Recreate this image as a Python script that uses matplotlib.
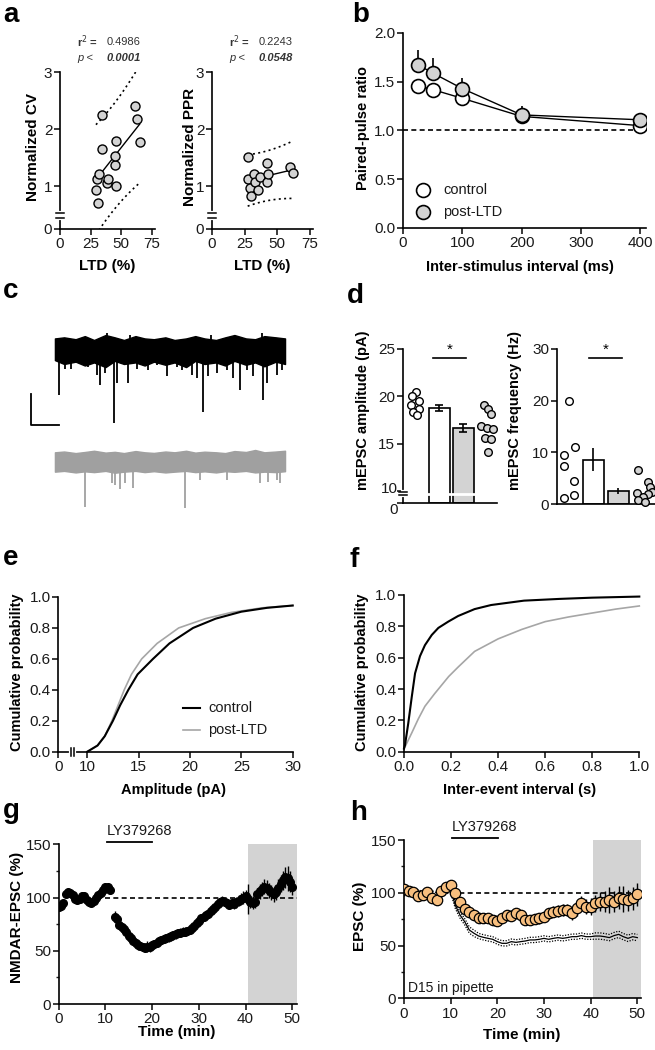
import numpy as np
import matplotlib
matplotlib.use("Agg")
import matplotlib.pyplot as plt
from matplotlib.transforms import blended_transform_factory, offset_copy

plt.rcParams['font.family'] = ['Liberation Sans', 'DejaVu Sans']
plt.rcParams['axes.linewidth'] = 1.2
for a in ('x', 'y'):
    plt.rcParams[f'{a}tick.major.width'] = 1.2
    plt.rcParams[f'{a}tick.minor.width'] = 1.0
    plt.rcParams[f'{a}tick.major.size'] = 4
    plt.rcParams[f'{a}tick.minor.size'] = 2.5
    plt.rcParams[f'{a}tick.labelsize'] = 11
    plt.rcParams[f'{a}tick.color'] = '#1a1a1a'
plt.rcParams['xtick.major.pad'] = 2
plt.rcParams['ytick.major.pad'] = 1.5

# ---------------- data ----------------
# a: LTD (%) vs normalized CV / PPR
cv_ltd = [31.2, 29.3, 29.8, 32.0, 33.9, 33.9, 38.5, 39.3, 44.7, 44.7, 45.5, 45.3, 61.0, 62.9, 65.0]
cv_norm = [0.71, 0.93, 1.12, 1.22, 2.24, 1.65, 1.06, 1.12, 1.37, 1.52, 1.79, 1.01, 2.40, 2.18, 1.78]
ppr_ltd = [27.3, 27.3, 29.1, 29.6, 32.1, 32.9, 35.5, 36.7, 41.8, 41.8, 43.1, 59.7, 61.7]
ppr_norm = [1.51, 1.13, 0.96, 0.83, 1.21, 1.08, 0.93, 1.16, 1.41, 1.08, 1.22, 1.34, 1.23]
cv_stats = ('0.4986', '0.0001')
ppr_stats = ('0.2243', '0.0548')

# b: paired-pulse ratio
isi = [25, 50, 100, 200, 400]
ppr_ctrl = [1.46, 1.42, 1.33, 1.145, 1.05]
ppr_ctrl_err = [0.08, 0.07, 0.08, 0.04, 0.02]
ppr_post = [1.675, 1.59, 1.43, 1.16, 1.11]
ppr_post_err = [0.15, 0.15, 0.11, 0.09, 0.03]

# c: example mEPSC traces (noise envelope + events)
tr_t = [0, 4, 9, 13, 17, 22, 26, 30, 35, 39, 43, 48, 52, 57, 61, 65, 70, 74, 78, 83, 87, 91, 96, 100]
ctrl_top = [7.5, 8.2, 7.0, 9.0, 6.5, 9.7, 8.2, 6.5, 9.0, 7.5, 7.0, 8.2, 6.5, 7.5, 9.0, 7.5, 6.5, 8.2, 9.7, 7.5, 7.0, 9.0, 8.2, 7.5]
ctrl_bot = [-6.5, -9, -7.5, -10, -8, -11, -7, -9, -8, -10, -7.5, -9.5, -8, -11, -7, -9, -8, -10, -7, -9.5, -8, -10.5, -7.5, -9]
post_top = [6.0, 6.5, 5.5, 6.2, 7.0, 5.8, 6.3, 5.5, 6.8, 6.0, 5.6, 6.5, 6.0, 7.0, 5.8, 6.4, 6.0, 5.5, 6.8, 6.2, 7.5, 6.0, 6.5, 7.0]
post_bot = [-6.5, -6.0, -7.0, -6.3, -6.8, -6.0, -7.2, -6.5, -6.0, -6.8, -6.2, -7.0, -6.5, -6.0, -6.8, -6.3, -7.0, -6.2, -6.6, -6.0, -7.0, -6.5, -6.8, -6.2]
ctrl_ev_t = [1.9, 4.3, 7.2, 10.9, 14.5, 18.1, 19.6, 21.7, 25.7, 27.1, 31.9, 35.5, 40.6, 44.2, 48.6, 52.9, 55.1, 59.4,
             61.6, 64.5, 66.7, 70.3, 74.6, 77.5, 80.4, 83.3, 86.2, 90.6, 92.0, 96.4, 98.6]
ctrl_ev_amp = [-29, -12, -12, -8.6, -10.8, -16, -22.6, -15, -47, -21.5, -21.5, -12, -13, -9.7, -17, -10.8, -13, -16,
               -18, -40, -17, -15, -13, -18, -26, -13, -17, -32, -21.5, -16, -13]
ctrl_up_t = [22.5, 32.6, 68.0, 89.9]
ctrl_up_amp = [11, 10, 10, 11]
post_ev_t = [13.0, 24.6, 26.0, 28.3, 30.4, 34.0, 56.5, 63.0, 74.6, 89.0, 92.8, 96.4, 97.8]
post_ev_amp = [-29, -14, -15, -18, -14, -17, -30, -12, -12, -14, -13, -12, -14]
scale_t, scale_pA = 12.5, 20.0

# d: mEPSC amplitude / frequency
amp_ctrl = [20.5, 20.0, 19.5, 19.1, 18.7, 18.3, 18.0]
amp_ctrl_dx = [0.01, -0.13, 0.15, -0.17, 0.15, -0.10, 0.07]
amp_post = [19.1, 18.7, 18.1, 16.9, 16.7, 16.5, 15.6, 15.5, 14.1]
amp_post_dx = [-0.15, 0.03, 0.17, -0.25, 0.0, 0.24, -0.11, 0.14, 0.03]
amp_mean = [18.75, 16.65]
amp_sem = [0.35, 0.45]
freq_ctrl = [20.0, 11.0, 9.5, 7.3, 4.5, 1.7, 1.1]
freq_ctrl_dx = [0.04, 0.25, -0.17, -0.17, 0.23, 0.23, -0.17]
freq_post = [6.6, 4.3, 3.3, 2.4, 2.1, 2.0, 1.4, 0.8, 0.4]
freq_post_dx = [-0.2, 0.2, 0.27, 0.33, -0.27, 0.2, 0.0, -0.2, 0.07]
freq_mean = [8.6, 2.5]
freq_sem = [2.2, 0.55]

# e: cumulative amplitude
e_x_ctrl = [10, 11, 11.7, 12.5, 13.2, 14.0, 14.9, 16.4, 18.0, 20.3, 22.5, 25, 27.5, 30]
e_y_ctrl = [0.0, 0.04, 0.1, 0.2, 0.3, 0.4, 0.5, 0.6, 0.7, 0.8, 0.86, 0.905, 0.93, 0.945]
e_x_post = [10, 11, 11.7, 12.4, 13.0, 13.6, 14.3, 15.3, 16.8, 18.9, 21.5, 24, 27, 30]
e_y_post = [0.0, 0.04, 0.1, 0.2, 0.3, 0.4, 0.5, 0.6, 0.7, 0.8, 0.86, 0.9, 0.93, 0.945]

# f: cumulative inter-event interval
f_x_ctrl = [0, 0.004, 0.018, 0.033, 0.047, 0.068, 0.089, 0.118, 0.146, 0.188, 0.23, 0.30, 0.37, 0.51, 0.66, 0.80, 1.0]
f_y_ctrl = [0.02, 0.04, 0.18, 0.35, 0.50, 0.61, 0.68, 0.745, 0.79, 0.83, 0.866, 0.91, 0.936, 0.964, 0.975, 0.983, 0.99]
f_x_post = [0, 0.004, 0.033, 0.061, 0.089, 0.13, 0.19, 0.23, 0.30, 0.40, 0.50, 0.60, 0.70, 0.80, 0.90, 1.0]
f_y_post = [0.02, 0.03, 0.12, 0.21, 0.29, 0.37, 0.48, 0.54, 0.64, 0.72, 0.78, 0.83, 0.86, 0.885, 0.91, 0.93]

# g: NMDAR-EPSC time course
g_t1 = np.arange(0, 11.01, 0.5)
g_v1 = [91.5, 92, 95, 103, 105, 104, 102, 99, 98, 99, 101, 101, 98, 96, 95, 97, 100, 102, 104, 107, 110, 110, 107]
g_e1 = [4, 3, 3, 3, 3, 3, 3, 3, 3, 3, 3, 3, 3, 3, 3, 3, 3, 3, 4, 4, 4, 4, 4]
g_t2 = np.arange(12, 50.01, 0.5)
g_v2 = [82, 80, 74, 72, 70, 68, 64, 62, 59, 57,
        55.5, 54.5, 53.5, 53, 54, 53.5, 55, 56, 57.5, 59,
        60, 61, 62, 62.5, 63.5, 64.5, 65.5, 66.5, 67, 68,
        68, 68.5, 69.5, 71, 73.5, 76, 78, 80.5, 82, 84,
        85, 87, 89, 91.5, 94, 96, 97, 96, 95, 93,
        95, 94, 95.5, 97, 99, 100, 101, 99, 96, 95,
        96, 103, 106, 108, 110, 109, 107, 105, 103, 105,
        109, 113, 116, 119, 118, 115, 110]
g_e2 = [5, 5, 4, 4, 4, 4, 4, 4, 4, 4,
        5, 4, 4, 4, 5, 5, 4, 4, 4, 4,
        4, 4, 4, 4, 4, 4, 4, 4, 4, 4,
        4, 4, 4, 4, 4, 4, 4, 4, 4, 4,
        4, 4, 4, 4, 4, 4, 4, 4, 4, 4,
        5, 5, 5, 5, 5, 6, 6, 14, 6, 6,
        6, 6, 7, 7, 7, 7, 7, 7, 7, 7,
        8, 8, 9, 10, 12, 10, 8]

# h: EPSC time course with D15 (orange) and control LTD (line)
h_t = np.arange(0, 50.01, 1.0)
h_v = [104, 101.7, 100.4, 97, 98, 100.4, 94.7, 93, 101.7, 105.8, 107.4,
       99.5, 91.6, 85, 81.5, 79, 76.4, 75.8, 75.8, 74.2, 73.3,
       75.8, 79, 78.3, 80.5, 79, 74.2, 74.2, 75.2, 75.8, 77.4,
       80.5, 82.1, 82.7, 83.7, 83.7, 80.5, 85.3, 90, 86.8, 86.8,
       90, 91.6, 91.6, 93, 91.6, 95.4, 94, 93, 94.7, 98.5]
h_e = [3, 3, 3, 3, 3, 3, 3, 3, 3, 3, 4,
       4, 4, 4, 4, 4, 4, 4, 4, 4, 4,
       4, 4, 5, 4, 5, 4, 4, 5, 5, 5,
       5, 5, 6, 6, 6, 6, 7, 7, 7, 8,
       8, 9, 10, 12, 10, 11, 12, 10, 11, 11]
h_ctrl = [100, 101, 99, 100, 98, 100, 99, 97, 100, 102, 103,
          88, 79, 72.6, 64.7, 61.6, 59, 57.8, 56.8, 55.9, 53.7,
          52.1, 52.1, 53.7, 53, 53.7, 54.3, 55.3, 55.3, 55.9, 56.8,
          55.9, 56.8, 57.5, 56.8, 57.5, 58.4, 58.4, 59.4, 58.4, 58.4,
          59, 59, 58.4, 57.5, 59.4, 60.6, 58.4, 56.8, 58.4, 57.5]
h_ctrl_sem = [3, 3, 3, 3, 3, 3, 3, 3, 3, 3, 3,
              3, 3, 3, 3, 3, 2.5, 2.5, 2.5, 2.5, 2.5,
              2.5, 2.5, 2.5, 2.5, 2.5, 2.5, 2.5, 2.5, 2.5, 2.5,
              2.5, 2.5, 2.5, 2.5, 2.5, 2.5, 2.5, 2.5, 2.5, 2.5,
              3, 3, 3, 3, 3, 3, 3, 3, 3, 3]
drug_on, drug_off = 10, 20
shade_start = 40.5

GRAY = '#D3D3D3'
ORANGE = '#F7BE7E'

# ---------------- layout helpers ----------------
W, H = 655, 1050
fig = plt.figure(figsize=(W / 100, H / 100), dpi=100)


def add_ax(box):
    x0, y0, x1, y1 = box
    ax = fig.add_axes([x0 / W, 1 - y1 / H, (x1 - x0) / W, (y1 - y0) / H])
    ax.spines['top'].set_visible(False)
    ax.spines['right'].set_visible(False)
    ax.patch.set_alpha(0)
    return ax


def labels(ax, box, xlabel=None, xpos=None, ylabel=None, ypos=None, fs=11):
    x0, y0, x1, y1 = box
    if xlabel is not None:
        ax.set_xlabel(xlabel, fontsize=fs, fontweight='bold')
        ax.xaxis.set_label_coords((xpos[0] - x0) / (x1 - x0), (y1 - xpos[1]) / (y1 - y0))
        ax.xaxis.label.set_va('center')
    if ylabel is not None:
        ax.set_ylabel(ylabel, fontsize=fs, fontweight='bold')
        ax.yaxis.set_label_coords((ypos[0] - x0) / (x1 - x0), (y1 - ypos[1]) / (y1 - y0))
        ax.yaxis.label.set_va('center')


def ftext(x, y, s, **kw):
    fig.text(x / W, 1 - y / H, s, **kw)


def ybreak(ax, box, lo, hi, across=None):
    trans = ax.get_yaxis_transform()
    dx = 4.0 / (box[2] - box[0])
    ax.plot([0, 0], [lo, hi], transform=trans, color='white', lw=3, clip_on=False, zorder=6)
    if across is not None:
        ax.plot([0, across], [(lo + hi) / 2] * 2, transform=trans, color='white', lw=2, clip_on=False, zorder=6)
    for yy in (lo, hi):
        ax.plot([-dx, dx], [yy, yy], transform=trans, color='k', lw=1.1, clip_on=False, zorder=7)


def xbreak(ax, box, lo, hi):
    trans = ax.get_xaxis_transform()
    dy = 4.0 / (box[3] - box[1])
    ax.plot([lo, hi], [0, 0], transform=trans, color='white', lw=3, clip_on=False, zorder=6)
    for xx in (lo, hi):
        ax.plot([xx, xx], [-dy, dy], transform=trans, color='k', lw=1.1, clip_on=False, zorder=7)


def fit_bands(x, y, tcrit):
    x = np.asarray(x, float)
    y = np.asarray(y, float)
    b, a = np.polyfit(x, y, 1)
    n = len(x)
    s = np.sqrt(np.sum((y - (a + b * x)) ** 2) / (n - 2))
    xm = x.mean()
    sxx = np.sum((x - xm) ** 2)
    xs = np.linspace(x.min(), x.max(), 60)
    yh = a + b * xs
    se = s * np.sqrt(1 + 1 / n + (xs - xm) ** 2 / sxx)
    return xs, yh, yh - tcrit * se, yh + tcrit * se


# panel letters
for letter, (lx, ly) in {'a': (3, 22), 'b': (352, 22), 'c': (3, 298), 'd': (347, 303),
                         'e': (3, 565), 'f': (350, 567), 'g': (3, 818), 'h': (350, 820)}.items():
    ftext(lx, ly, letter, fontsize=20, fontweight='bold', ha='left', va='baseline')

# ---------------- a ----------------
for box, xd, yd, stats, ylab, ylx, tcrit, px75 in (
        ((60, 72, 155, 229), cv_ltd, cv_norm, cv_stats, 'Normalized CV', 33, 2.160, 92.0),
        ((212, 72, 313, 229), ppr_ltd, ppr_norm, ppr_stats, 'Normalized PPR', 190, 2.201, 98.0)):
    ax = add_ax(box)
    ax.set_xlim(0, (box[2] - box[0]) * 75.0 / px75)
    ax.set_ylim(0.25, 3)
    ax.set_xticks([0, 25, 50, 75])
    ax.set_yticks([0.25, 1, 2, 3])
    ax.set_yticklabels(['0', '1', '2', '3'])
    xs, yh, lo, hi = fit_bands(xd, yd, tcrit)
    ax.plot(xs, yh, color='k', lw=1.0, zorder=2)
    ax.plot(xs, lo, color='k', lw=1.2, ls=(0, (1.2, 2.0)), zorder=2)
    ax.plot(xs, hi, color='k', lw=1.2, ls=(0, (1.2, 2.0)), zorder=2)
    ax.plot(xd, yd, 'o', mfc=GRAY, mec='k', ms=6.5, mew=1.0, zorder=3)
    ybreak(ax, box, 0.44, 0.53)
    labels(ax, box, 'LTD (%)', ((box[0] + box[2]) / 2, 266), ylab, (ylx, 147))
    tx = box[0] + 17
    ftext(tx, 42, 'r$^2$ =', fontsize=8, color='#333333', ha='left', va='center', fontweight='bold')
    ftext(tx + 30, 42, stats[0], fontsize=8, color='#333333', ha='left', va='center')
    ftext(tx, 58, 'p <', fontsize=8, color='#333333', ha='left', va='center', style='italic')
    ftext(tx + 30, 58, stats[1], fontsize=8, color='#333333', ha='left', va='center', style='italic', fontweight='bold')

# ---------------- b ----------------
box_b = (403, 33, 646, 228)
ax = add_ax(box_b)
ax.set_xlim(0, 410)
ax.set_ylim(0, 2)
ax.set_xticks([0, 100, 200, 300, 400])
ax.set_yticks([0, 0.5, 1.0, 1.5, 2.0])
ax.set_yticklabels(['0.0', '0.5', '1.0', '1.5', '2.0'])
ax.axhline(1.0, color='k', lw=1.2, ls=(0, (3, 2)), zorder=1)
ax.errorbar(isi, ppr_ctrl, yerr=[ppr_ctrl_err, [0] * 5], fmt='-o', color='k', mfc='white', mec='k',
            ms=10, mew=1.2, lw=1.0, elinewidth=1.2, capsize=0, zorder=3)
ax.errorbar(isi, ppr_post, yerr=[[0] * 5, ppr_post_err], fmt='-o', color='k', mfc=GRAY, mec='k',
            ms=10, mew=1.2, lw=1.0, elinewidth=1.2, capsize=0, zorder=4)
for yy, fc, txt in ((0.39, 'white', 'control'), (0.164, GRAY, 'post-LTD')):
    ax.plot([33.8], [yy], 'o', mfc=fc, mec='k', ms=10, mew=1.2, clip_on=False)
    ax.text(67.5, yy, txt, fontsize=10.5, va='center', ha='left', color='#1a1a1a')
labels(ax, box_b, 'Inter-stimulus interval (ms)', (520, 267), 'Paired-pulse ratio', (363, 128), fs=10.5)

# ---------------- c ----------------
box_c = (25, 320, 300, 520)
ax = add_ax(box_c)
ax.axis('off')
ax.set_xlim(-13, 106.5)
ax.set_ylim(-109.7, 19.4)
post_off = -72.0
ax.fill_between(tr_t, ctrl_bot, ctrl_top, color='k', lw=1.0, edgecolor='k')
ax.vlines(ctrl_ev_t, 0, ctrl_ev_amp, color='k', lw=1.3)
ax.vlines(ctrl_up_t, 0, ctrl_up_amp, color='k', lw=1.3)
ax.fill_between(tr_t, np.array(post_bot) + post_off, np.array(post_top) + post_off, color='#A0A0A0',
                lw=1.0, edgecolor='#A0A0A0')
ax.vlines(post_ev_t, post_off, np.array(post_ev_amp) + post_off, color='#A0A0A0', lw=1.3)
sb_x, sb_y = -10.6, -48.4
ax.plot([sb_x, sb_x, sb_x + scale_t], [sb_y + scale_pA, sb_y, sb_y], color='k', lw=1.3)

# ---------------- d (amplitude) ----------------
box_d1 = (403, 349, 497, 503.5)
ax = add_ax(box_d1)
ylo = 8.68
ax.set_xlim(-0.52, 3.4)
ax.set_ylim(ylo, 25)
ax.set_xticks([])
ax.set_yticks([ylo, 10, 15, 20, 25])
ax.set_yticklabels(['', '', '15', '20', '25'])
ytr = offset_copy(ax.get_yaxis_transform(), fig=fig, x=-5.5, y=0, units='dots')
ax.text(0, 9.75, '10', transform=ytr, ha='right', va='baseline', fontsize=11, color='#1a1a1a')
ax.text(0, ylo, '0', transform=ytr, ha='right', va='top', fontsize=11, color='#1a1a1a')
ax.bar([1, 2], np.array(amp_mean) - ylo, bottom=ylo, width=0.87, color=['white', GRAY], edgecolor='k',
       lw=1.2, zorder=2)
ax.errorbar([1, 2], amp_mean, yerr=amp_sem, fmt='none', ecolor='k', elinewidth=1.2, capsize=3, capthick=1.2,
            zorder=3)
ax.plot(np.array(amp_ctrl_dx) + 0, amp_ctrl, 'o', mfc='white', mec='k', ms=5.5, mew=1.0, zorder=4)
ax.plot(np.array(amp_post_dx) + 3, amp_post, 'o', mfc=GRAY, mec='k', ms=5.5, mew=1.0, zorder=4)
ax.plot([0.75, 2.1], [24, 24], color='k', lw=1.2)
ax.text(1.43, 24.2, '*', ha='center', va='bottom', fontsize=11)
ybreak(ax, box_d1, 9.55, 9.85, across=(2.5 + 0.52) / 3.92)
labels(ax, box_d1, None, None, 'mEPSC amplitude (pA)', (363, 410), fs=10.5)

# ---------------- d (frequency) ----------------
box_d2 = (557, 349, 655, 504)
ax = add_ax(box_d2)
ax.set_xlim(-0.45, 3.47)
ax.set_ylim(0, 30)
ax.set_xticks([])
ax.set_yticks([0, 10, 20, 30])
ax.bar([1, 2], freq_mean, width=0.84, color=['white', GRAY], edgecolor='k', lw=1.2, zorder=2)
ax.errorbar([1, 2], freq_mean, yerr=freq_sem, fmt='none', ecolor='k', elinewidth=1.2, capsize=0, zorder=3)
ax.plot(np.array(freq_ctrl_dx) + 0, freq_ctrl, 'o', mfc='white', mec='k', ms=5.5, mew=1.0, zorder=4,
        clip_on=False)
ax.plot(np.array(freq_post_dx) + 3, freq_post, 'o', mfc=GRAY, mec='k', ms=5.5, mew=1.0, zorder=4,
        clip_on=False)
ax.plot([0.84, 2.16], [28.3, 28.3], color='k', lw=1.2)
ax.text(1.5, 28.5, '*', ha='center', va='bottom', fontsize=11)
labels(ax, box_d2, None, None, 'mEPSC frequency (Hz)', (515, 410), fs=10.5)

# ---------------- e ----------------
box_e = (58.3, 597, 292.7, 751.7)
ax = add_ax(box_e)
ax.set_xlim(7.18, 30)
ax.set_ylim(0, 1)
ax.set_xticks([7.18, 10, 15, 20, 25, 30])
ax.set_xticklabels(['0', '10', '15', '20', '25', '30'])
ax.set_yticks([0, 0.2, 0.4, 0.6, 0.8, 1.0])
ax.set_yticklabels(['0.0', '0.2', '0.4', '0.6', '0.8', '1.0'])
ax.plot(e_x_post, e_y_post, color='#A6A6A6', lw=1.2, clip_on=False)
ax.plot(e_x_ctrl, e_y_ctrl, color='k', lw=1.5, clip_on=False)
xbreak(ax, box_e, 8.45, 8.75)
ax.plot([19.32, 20.97], [0.282, 0.282], color='k', lw=1.5)
ax.plot([19.32, 20.97], [0.14, 0.14], color='#A6A6A6', lw=1.2)
ax.text(21.75, 0.282, 'control', fontsize=10.5, va='center', color='#1a1a1a')
ax.text(21.75, 0.14, 'post-LTD', fontsize=10.5, va='center', color='#1a1a1a')
labels(ax, box_e, 'Amplitude (pA)', (174, 790), 'Cumulative probability', (17, 672), fs=10.5)

# ---------------- f ----------------
box_f = (404, 595, 639.3, 751.7)
ax = add_ax(box_f)
ax.set_xlim(0, 1)
ax.set_ylim(0, 1)
ax.set_xticks([0, 0.2, 0.4, 0.6, 0.8, 1.0])
ax.set_xticklabels(['0.0', '0.2', '0.4', '0.6', '0.8', '1.0'])
ax.set_yticks([0, 0.2, 0.4, 0.6, 0.8, 1.0])
ax.set_yticklabels(['0.0', '0.2', '0.4', '0.6', '0.8', '1.0'])
ax.plot(f_x_post, f_y_post, color='#A6A6A6', lw=1.2, clip_on=False)
ax.plot(f_x_ctrl, f_y_ctrl, color='k', lw=1.5, clip_on=False)
labels(ax, box_f, 'Inter-event interval (s)', (520, 790), 'Cumulative probability', (362, 672), fs=10.5)

# ---------------- g ----------------
box_g = (58.7, 844.3, 297, 1004)
ax = add_ax(box_g)
ax.set_xlim(0, 51)
ax.set_ylim(0, 150)
ax.set_xticks([0, 10, 20, 30, 40, 50])
ax.set_yticks([0, 50, 100, 150])
ax.set_yticks([25, 75, 125], minor=True)
ax.axvspan(shade_start, 51, color=GRAY, lw=0, zorder=0)
ax.plot([10, 51], [100, 100], color='k', lw=1.2, ls=(0, (3, 2)), zorder=1)
for tt, vv, ee in ((g_t1, g_v1, g_e1), (g_t2, g_v2, g_e2)):
    ax.errorbar(tt, vv, yerr=ee, fmt='o', color='k', mfc='k', mec='k', ms=5.5, elinewidth=1.0, capsize=0,
                zorder=3)
ax.plot([drug_on + 0.4, drug_off], [152.4, 152.4], color='k', lw=1.3, clip_on=False)
ax.text(drug_on + 0.2, 155.5, 'LY379268', fontsize=10.5, ha='left', va='bottom', color='#1a1a1a')
labels(ax, box_g, 'Time (min)', (177, 1032), 'NMDAR-EPSC (%)', (17, 917), fs=11)

# ---------------- h ----------------
box_h = (404, 840, 640.6, 998.3)
ax = add_ax(box_h)
ax.set_xlim(0, 50.7)
ax.set_ylim(0, 150)
ax.set_xticks([0, 10, 20, 30, 40, 50])
ax.set_yticks([0, 50, 100, 150])
ax.set_yticks([25, 75, 125], minor=True)
ax.axvspan(shade_start, 50.7, color=GRAY, lw=0, zorder=0)
ax.plot([10, 50], [100, 100], color='k', lw=1.2, ls=(0, (3, 2)), zorder=1)
hc = np.array(h_ctrl)
hs = np.array(h_ctrl_sem)
ax.plot(h_t, hc, color='k', lw=0.9, zorder=2)
ax.plot(h_t, hc + hs, color='k', lw=0.9, ls=(0, (1, 1.2)), zorder=2)
ax.plot(h_t, hc - hs, color='k', lw=0.9, ls=(0, (1, 1.2)), zorder=2)
ax.errorbar(h_t, h_v, yerr=h_e, fmt='o', color='k', mfc=ORANGE, mec='k', ms=7.5, mew=0.9, elinewidth=1.0,
            capsize=0, zorder=3)
ax.plot([drug_on + 0.2, drug_off + 0.2], [151.6, 151.6], color='k', lw=1.3, clip_on=False)
ax.text(drug_on + 0.2, 155.5, 'LY379268', fontsize=10.5, ha='left', va='bottom', color='#1a1a1a')
ax.text(0.9, 10, 'D15 in pipette', fontsize=10, ha='left', va='center', color='#1a1a1a')
labels(ax, box_h, 'Time (min)', (522, 1035), 'EPSC (%)', (360, 916), fs=11)

fig.savefig('out.png', dpi=100)
